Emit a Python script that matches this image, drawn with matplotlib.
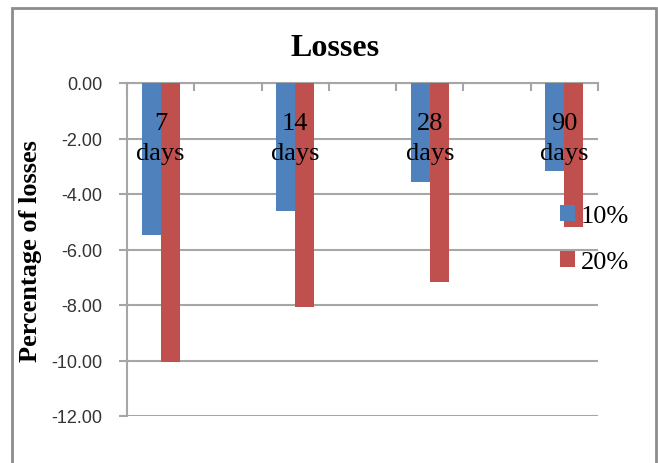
import matplotlib.pyplot as plt
import matplotlib.patches as mpatches
import matplotlib.transforms as mtransforms
import numpy as np

plt.rcParams['font.family'] = ['Liberation Serif', 'DejaVu Serif']

# curing periods and losses (%) for the two replacement levels
periods = ['7\ndays', '14\ndays', '28\ndays', '90\ndays']
loss_10 = [-5.48, -4.61, -3.57, -3.17]
loss_20 = [-10.05, -8.07, -7.17, -5.19]
series_names = ['10%', '20%']
yticks = [0, -2, -4, -6, -8, -10, -12]

blue = '#4F81BD'
red = '#C0504D'
grid_col = '#A6A6A6'

fig = plt.figure(figsize=(6.58, 4.64), dpi=100)
ax = fig.add_axes([127 / 658, 1 - 417 / 464, 471 / 658, 333 / 464])

# every period is followed by an empty category, like the sheet layout
x = np.arange(len(periods)) * 2
w = 0.282
ax.bar(x - w / 2, loss_10, w, color=blue, label=series_names[0], zorder=3)
ax.bar(x + w / 2, loss_20, w, color=red, label=series_names[1], zorder=3)

ax.set_xlim(-0.5, 2 * len(periods) - 1.5)
ax.set_ylim(min(yticks), max(yticks))

# category axis sits at y=0 (top of the plot)
for s in ['top', 'right']:
    ax.spines[s].set_visible(False)
ax.spines['bottom'].set_position(('data', 0))
ax.spines['bottom'].set_color(grid_col)
ax.spines['bottom'].set_linewidth(1.5)
ax.spines['left'].set_color(grid_col)
ax.spines['left'].set_linewidth(1.5)

ax.set_xticks(x)
ax.set_xticklabels([])
ax.set_xticks(np.arange(-0.5, 2 * len(periods) - 1, 1), minor=True)
ax.tick_params(axis='x', which='major', length=0)
ax.tick_params(axis='x', which='minor', length=6, width=1.5, color=grid_col,
               direction='out')

# category names are drawn over the bars
trans = mtransforms.blended_transform_factory(ax.transData, ax.transAxes)
for xi, name in zip(x, periods):
    ax.text(xi, 1 - 29 / 333, name, transform=trans, fontsize=19,
            ha='center', va='top', linespacing=1.45, zorder=6)

ax.set_yticks(yticks)
ax.set_yticklabels(['%.2f' % v for v in yticks], family='Liberation Sans',
                   fontsize=13, color='#333333')
ax.tick_params(axis='y', length=6, width=1.5, color=grid_col, pad=12)
ax.yaxis.grid(True, color=grid_col, linewidth=1.5, zorder=0)
ax.set_axisbelow(True)

fig.text(31 / 658, 1 - 251 / 464, 'Percentage of losses', rotation=90,
         fontsize=19, fontweight='bold', ha='center', va='center')
fig.text(335 / 658, 1 - 48 / 464, 'Losses', fontsize=23, fontweight='bold',
         ha='center', va='center')

ax.legend(loc='center left', bbox_to_anchor=(560 / 658, 1 - 240 / 464),
          bbox_transform=fig.transFigure, frameon=False, fontsize=19,
          handlelength=0.55, handleheight=0.55, handletextpad=0.25,
          labelspacing=0.9, borderpad=0, borderaxespad=0)

# chart frame (lower edge runs off the image)
frame = mpatches.Rectangle((11.5 / 658, -0.2), (656 - 11.5) / 658,
                           1.2 - 8.5 / 464, transform=fig.transFigure,
                           fill=False, edgecolor='#8C8C8C', linewidth=2)
fig.patches.append(frame)

fig.savefig('out.png', dpi=100)
